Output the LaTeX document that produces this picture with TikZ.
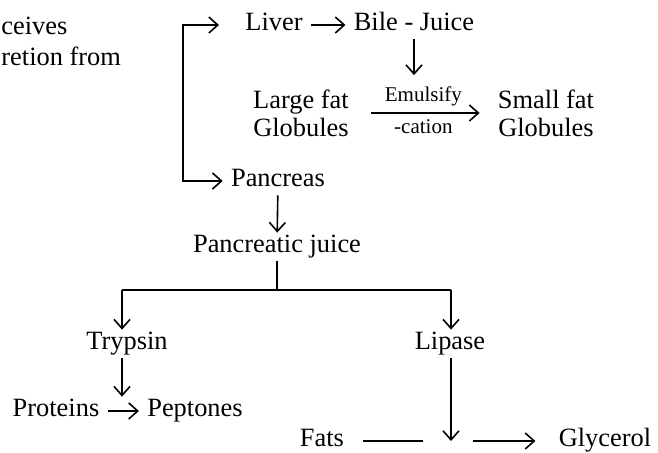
\documentclass[tikz,border=0pt]{standalone}
\usepackage{fontspec}
\setmainfont{Liberation Serif}
\usepackage{tikz}
\usetikzlibrary{calc}
\usetikzlibrary{arrows.meta}
\usetikzlibrary{positioning}
\tikzstyle{term} = [font=\fontsize{13.2}{14}\selectfont, text height=9pt, text depth=3pt, inner xsep=4pt, inner ysep=1pt]
\tikzstyle{pair} = [font=\fontsize{13.2}{14}\selectfont, align=center, inner xsep=4pt, inner ysep=1pt]
\tikzstyle{note} = [font=\fontsize{10.5}{12}\selectfont, inner xsep=1pt, inner ysep=3pt]
\tikzstyle{line} = [draw, -{Straight Barb[length=4.5pt,width=8pt]}, line width=0.8pt]
\tikzstyle{link} = [draw, line width=0.8pt]

\begin{document}
\begin{tikzpicture}[x=0.5pt, y=-0.5pt]
    \useasboundingbox (0,0) rectangle (658,453);

    % text cut off at the left edge
    \node [term, anchor=base west, inner xsep=0pt] (recv) at (1,35) {ceives};
    \node [term, anchor=base west, inner xsep=0pt] (secr) at (1,66) {retion from};

    \node [term, anchor=base] (liver) at (274,31) {Liver};
    \node [term, anchor=base] (bile) at (414,31) {Bile - Juice};
    \node [pair] (large) at (301,113) {Large fat\\Globules};
    \node [pair] (small) at (546,113) {Small fat\\Globules};
    \node [term, anchor=base] (pancreas) at (278,187) {Pancreas};
    \node [term, anchor=base] (juice) at (277,253) {Pancreatic juice};
    \node [term, anchor=base] (trypsin) at (127,350) {Trypsin};
    \node [term, anchor=base] (lipase) at (450,350) {Lipase};
    \node [term, anchor=base] (proteins) at (56,417) {Proteins};
    \node [term, anchor=base] (peptones) at (195,417) {Peptones};
    \node [term, anchor=base] (fats) at (322,447) {Fats};
    \node [term, anchor=base] (glycerol) at (605,447) {Glycerol};

    \coordinate (fork) at (183,100);
    \coordinate (brl) at (122,290);
    \coordinate (brr) at (451,290);
    \coordinate (meet) at (brr |- fats);

    % liver / pancreas
    \path [line] (fork) |- ([xshift=-9pt]liver.west);
    \path [line] (fork) |- (pancreas);
    \path [line] (liver) -- (bile);
    \path [line, shorten <=7pt, shorten >=5pt] (large) -- node [note, above] (emul) {Emulsify} node [note, below] (cat) {-cation} (small);
    \path [line, shorten >=2.5pt] (bile) -- (bile |- emul.north);
    \path [line] (pancreas) -- (juice);

    % branches
    \path [link] (juice) -- (juice |- brl);
    \path [link] (brl) -- (brr);
    \path [line] (brl) -- (brl |- trypsin.north);
    \path [line] (brr) -- (brr |- lipase.north);
    \path [line] (brl |- trypsin.south) -- (brl |- peptones.north);
    \path [line] (proteins) -- (peptones);
    \path [line] (brr |- lipase.south) -- (meet);
    \path [link, shorten <=5.5pt, shorten >=14pt] (fats) -- (meet);
    \path [line, shorten <=11pt, shorten >=7.5pt] (meet) -- (glycerol);

\end{tikzpicture}
\end{document}
